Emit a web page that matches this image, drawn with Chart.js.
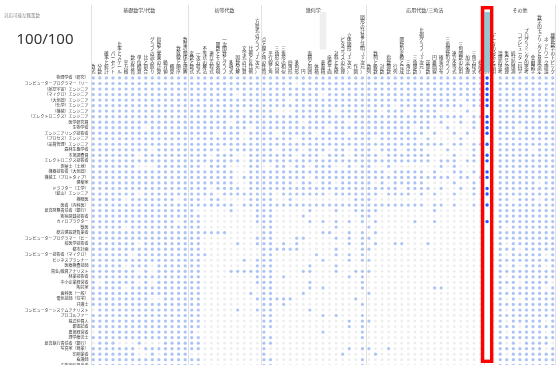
<!DOCTYPE html>
<html><head><meta charset="utf-8">
<script src="https://cdn.jsdelivr.net/npm/chart.js@4"></script>
<style>html,body{margin:0;padding:0;background:#fff;overflow:hidden}#wrap{width:560px;height:365px;overflow:hidden;position:relative}canvas{display:block}</style>
</head><body><div id="wrap"><canvas id="c" width="560" height="372"></canvas></div>
<script>
const FONT = '"Noto Sans CJK JP", "Noto Sans", sans-serif';
const panelTitle = '対応可能な職業数';
const panelValue = '100/100';

const groupNames = ['基礎数学/代数', '初等代数', '幾何学', '応用代数/三角法', 'その他'];
const groupStart = [0, 15, 26, 42, 60];
const groupEnd   = [14, 25, 41, 59, 70];

const columnLabels = [
  '数式','分数','確率と統計','パーセント','比率とスケール','平方根','数の性質','単位換算','比と割合','グラフの読み取り','指数と累乗の計算','絶対値','概算','数直線と順序','数量の関係を理解',
  '変数と数式','一次方程式','不等式の解法','連立方程式','関数とその表現','一次関数とグラフ','多項式','因数分解','文字式の計算','比例と反比例','方程式のグラフ（2次元）',
  '点と線と角の性質','平行線と角','三角形の合同','三角形の相似','四角形','多角形','円','面積と周囲','体積','表面積','座標平面','対称と変換','ピタゴラスの定理','立体図形（3次元）','作図','図形の計量と証明（3次元）',
  '数列','数列と級数','対数','指数関数','行列','関数の変換と合成','三角比','三角関数','比例グラフ（3次元）','逆関数','円錐曲線','確率分布','三角関数のグラフ','連立不等式','三角関数の応用','加法定理','三角方程式','極座標',
  'アルゴリズム','データの分析と活用','論理的思考','集合と論理','統計的推測','コンピューター科学','プログラミング的思考','金融数学','数学的モデリングと意思決定','ネットワーク理論','離散数学のトピック'
];

const rowLabels = [
  '物理学者（研究）','コンピュータープログラマー（リ…','（航空宇宙）エンジニア','（マイクロ）エンジニア','（大気圏）エンジニア','（化学）エンジニア','（機械）エンジニア','（エレクトロニクス）エンジニア','医学研究員','生物学者',
  'エンジニアリング技術者','（プロセス）エンジニア','（品質管理）エンジニア','森林生態学者','市場調査員','エレクトロニクス技術者','測量士（土地）','機器技術者（大気圏）','機械工（プロトタイプ）','建築家',
  'ドラフター（工学）','（鉱山）エンジニア','検眼医','医者（内科医）','最高財務責任者（銀行）','疾病登録技術者','カイロプラクター','獣医','総合建設請負業者','コンピュータープログラマー（ビ…',
  '核医学技術者','都市計画','コンピューター技術者（マイクロ）','ビジネスプランナー','医療検査技師','資金/融資アナリスト','林業技術者','中小企業経営者','陶芸家','歯科医（一般）',
  '電気技師（住宅）','弁護士','コンピューターシステムアナリスト','プロゴルファー','株式仲買人','新聞記者','農場経営者','理学療法士','最高執行責任者（銀行）','写真家（商業）',
  '印刷業者','看護師','広告宣伝担当者'
];

// 1 = topic used by the occupation, 0 = not used (groups: 15 / 11 / 16 / 18 / 11 columns)
const matchRows = [
  '111111111111111 11111111111 1111111111111111 111111111111111111 10111111111',
  '111111111111111 11111111111 1111101111111111 111111111111111111 10111111111',
  '111111111111111 11111111111 1111111111111111 111111111111111111 10111111111',
  '111111111111111 11111110111 1111111110111111 111111111111111111 10111111111',
  '111111111111111 11111111111 1111011111111111 111111111111110111 10111111111',
  '111111111111111 11111111111 1111111111111111 111101111111111011 10111111111',
  '111111111111111 11111111011 1100011111101111 110111011110000100 00111111111',
  '111111111111111 11111111111 1111111111111111 111111111111111011 10111111111',
  '111111111111111 11111101111 1111110111111011 111111111101001010 10111111111',
  '111111110111111 11111111101 1111111111011111 111111101100100010 10111011111',
  '111111111111111 11110111011 1101111101111011 111111111010010100 10111111111',
  '111111111111111 11111111011 1111101111111111 101111110100001000 00111111111',
  '111111111111111 11111111111 1111111111111111 111111111111011011 10111111111',
  '111111111011111 11111011111 1101110111011011 101110111000100010 00111110111',
  '111111101111111 11101110011 1111101110111011 110111111100010010 10111111111',
  '111111111111111 11111111011 1111111111111111 111111111101110110 10111111111',
  '111111100011111 11011100011 0011011011100101 100100000001010000 00111111111',
  '111111111111111 11111110011 1111111111111111 111011111010011010 10111111111',
  '111111111111111 11111110111 1111111011111111 111111111111101101 10111111111',
  '111111111111111 11111110011 1111101101101111 101011111000010010 00111111011',
  '111111111111111 11101111011 1111111111111111 111110111101001010 10111111111',
  '111111101111111 11110111111 1101111111011111 110111101010010010 10111111111',
  '111110111111101 11011000011 1100100000000011 100000000000000000 00110111011',
  '111111111111111 11111110111 1111111111111111 111111111011010010 10111111111',
  '111111111111111 10000010001 1100000100010011 110000000010000000 00111111111',
  '111111111111111 11000000001 1100001000000001 100000000000000000 00111111111',
  '111111111111101 11000000001 1100000101010101 010000010010000000 10111111111',
  '111110111111111 11000000000 1100000000010000 100000000000000000 00101111111',
  '111111111111111 11111100000 1100000001100101 010000000000000000 00111111111',
  '111111111111111 11000000001 1100011000010101 100000000000000000 00111111111',
  '111111101111111 11000001001 1101010000000101 010011000100000000 00101111111',
  '111111111111111 11000000000 1111110000010001 100000000000000000 00111011111',
  '111111011111111 11100000000 1100000010010101 000000000000000000 00101111101',
  '111111111111111 11000000101 1100000001000101 100000000000000000 00111111111',
  '111110111011111 11000000001 1100000100010000 000000000000000000 00101011101',
  '111111101011111 11000011111 1100001100010011 100000000000000000 00111111111',
  '111111111111111 11000000001 1101000000000101 000000000000000000 00101111111',
  '101111101011111 11000000001 1100000100000001 000000000000000000 00111011110',
  '111110111111111 11000000000 1100000101000001 000000000011000000 00101111101',
  '111111111111111 11000000010 1100001000000000 100000000000000000 00111111111',
  '111111111001111 11000000001 1111100000000010 000000000000000000 00101011111',
  '111111111111111 11000000000 1101000000000001 000000000000000000 00111111111',
  '011111111111111 11000001001 1100000100000000 000000000000000000 00101111111',
  '111111111111111 11000000000 1100000001010001 000000000000000000 00111111111',
  '111111111111111 11000000000 1100000000000101 100000000000000000 00101111101',
  '111111111111111 11000000000 1100000000000101 000000000000000000 00111011111',
  '011111111111111 10000000000 1000000001000001 000000000000000000 00101111101',
  '111111111111111 11000000000 1100000000000001 000000000000000000 00111111111',
  '011100010001111 11000000000 1100000000000000 000000000000000000 00101011110',
  '111111101111111 11000000000 1000000000000101 100100000000000000 00111111101',
  '111111100101111 00000000000 1000000000001000 010000000000000000 00101111111',
  '111111111111111 11000000000 1100000000000001 000000000000000000 00111111111',
  '111111111111111 11000000000 1100000000000001 000000000000000000 00111111111'
];

const highlightCol = 60;
const topBarCols = [35, 60];
const topBarFrom = [38, 0];
const topBarTo   = [100, 100];

const nCols = columnLabels.length;
const nomatch = [], match = [], hl = [];
matchRows.forEach((s, r) => {
  const t = s.replace(/\s+/g, '');
  if (t.length !== nCols) throw new Error('row ' + r + ' length ' + t.length);
  for (let c = 0; c < nCols; c++) {
    const v = t[c] === '1';
    if (c === highlightCol) { if (v) hl.push({x: c, y: r}); }
    else (v ? match : nomatch).push({x: c, y: r});
  }
});

const decor = {
  id: 'decor',
  beforeDatasetsDraw(chart) {
    const ctx = chart.ctx, xs = chart.scales.x;
    ctx.save();
    ctx.strokeStyle = '#e2e2e2';
    ctx.lineWidth = 1;
    const xsLines = groupStart.map(g => xs.getPixelForValue(g - 0.5));
    xsLines.push(xs.getPixelForValue(nCols - 0.5) - 1.5);
    xsLines.forEach((x, i) => {
      const px = Math.round(x) + 0.5 + (i === 0 ? 1 : 0);
      ctx.beginPath(); ctx.moveTo(px, 5); ctx.lineTo(px, chart.height); ctx.stroke();
    });
    ctx.restore();
  },
  afterDraw(chart) {
    const ctx = chart.ctx, xs = chart.scales.x;
    ctx.save();
    ctx.fillStyle = '#444';
    ctx.font = '5px ' + FONT;
    ctx.textAlign = 'center';
    ctx.textBaseline = 'middle';
    groupNames.forEach((n, g) => {
      const cx = (xs.getPixelForValue(groupStart[g] - 0.5) + xs.getPixelForValue(groupEnd[g] + 0.5)) / 2;
      ctx.fillText(n, cx, 10);
    });
    ctx.textAlign = 'left';
    ctx.fillStyle = '#888';
    ctx.font = '4.5px ' + FONT;
    ctx.fillText(panelTitle, 4, 15.5);
    ctx.textAlign = 'center';
    ctx.fillStyle = '#333';
    ctx.font = '15px "Noto Sans", sans-serif';
    ctx.fillText(panelValue, 45, 39.5);
    // red frame round the selected column
    const cx = xs.getPixelForValue(highlightCol);
    ctx.strokeStyle = '#ff0000';
    ctx.lineWidth = 3.4;
    ctx.strokeRect(cx - 4.6, 7.7, 9.2, 353.6);
    ctx.restore();
  }
};

new Chart(document.getElementById('c').getContext('2d'), {
  type: 'scatter',
  data: {
    datasets: [
      {data: hl, pointRadius: 1.7, pointBackgroundColor: '#1f5cff', pointBorderWidth: 0, clip: false},
      {data: match, pointRadius: 1.6, pointBackgroundColor: 'rgba(90,135,235,0.5)', pointBorderWidth: 0, clip: false},
      {data: nomatch, pointRadius: 1.4, pointBackgroundColor: '#ededed', pointBorderWidth: 0, clip: false},
      {type: 'bar', yAxisID: 'yb', xAxisID: 'x',
       data: topBarCols.map((c, i) => ({x: c, y: [topBarFrom[i], topBarTo[i]]})),
       backgroundColor: topBarCols.map(c => c === highlightCol ? '#93c5d5' : '#efefef'),
       barThickness: 6, borderWidth: 0, clip: false}
    ]
  },
  options: {
    responsive: false,
    animation: false,
    events: [],
    layout: {padding: {left: 0, right: 1.4, top: 0, bottom: 2.65}},
    plugins: {legend: {display: false}, tooltip: {enabled: false}},
    scales: {
      x: {type: 'linear', display: false, offset: false, grid: {offset: false}, min: -0.5, max: nCols - 0.5},
      y: {type: 'linear', display: false, offset: false, reverse: true, min: -0.5, max: rowLabels.length - 0.5},
      yb: {type: 'linear', display: false, offset: false, min: -495.58, max: -5.34},
      xl: {type: 'category', position: 'top', labels: columnLabels.map(s => Array.from(s)), offset: true, z: 1,
           grid: {display: false, drawTicks: false}, border: {display: false},
           ticks: {autoSkip: false, maxRotation: 0, minRotation: 0, padding: 2, color: '#333', font: {size: 4.5, family: FONT, lineHeight: 1}},
           afterFit: s => { s.height = 75.2; }},
      yl: {type: 'category', position: 'left', labels: rowLabels, offset: true,
           grid: {display: false, drawTicks: false}, border: {display: false},
           ticks: {autoSkip: false, padding: 1.5, color: '#333', font: {size: 4, family: FONT}},
           afterFit: s => { s.width = 90; }}
    }
  },
  plugins: [decor]
});
</script>
</body></html>
